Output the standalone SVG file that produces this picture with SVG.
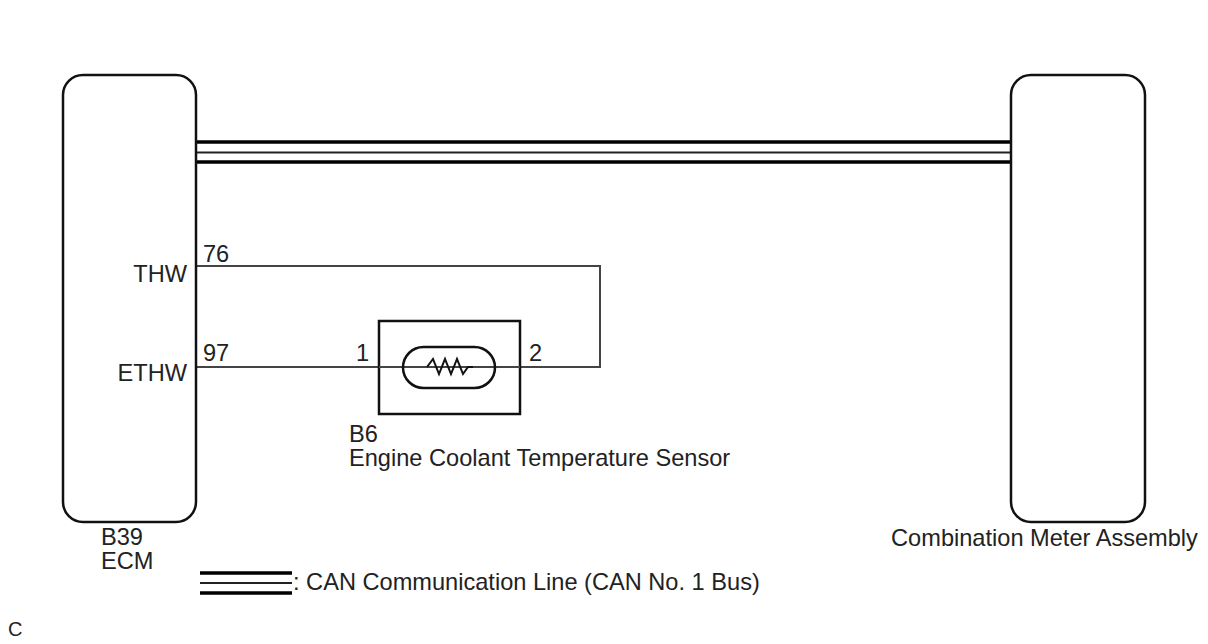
<svg xmlns="http://www.w3.org/2000/svg" width="1208" height="644" viewBox="0 0 1208 644">
<style>
text{font-family:"Liberation Sans",Arial,sans-serif;font-size:23.6px;fill:#222}
.box{fill:#fff;stroke:#111;stroke-width:2.5}
.wire{fill:none;stroke:#444;stroke-width:2}
.canT{stroke:#000;stroke-width:3.5}
.cant{stroke:#222;stroke-width:2}
</style>
<rect width="1208" height="644" fill="#fff"/>
<g id="connectors">
<line class="canT" x1="197" y1="142" x2="1011" y2="142"/>
<line class="cant" x1="197" y1="152.5" x2="1011" y2="152.5"/>
<line class="canT" x1="197" y1="162" x2="1011" y2="162"/>
<polyline class="wire" points="197,266 600,266 600,367 520,367"/>
<line class="wire" x1="197" y1="367" x2="379" y2="367"/>
</g>
<g id="ecm">
<rect class="box" x="63" y="75" width="133" height="447" rx="20"/>
<text x="187" y="282" text-anchor="end">THW</text>
<text x="187" y="381" text-anchor="end">ETHW</text>
<text x="203" y="262">76</text>
<text x="203" y="361">97</text>
<text x="101" y="545">B39</text>
<text x="101" y="568.5">ECM</text>
</g>
<g id="meter">
<rect class="box" x="1011" y="75" width="134" height="447" rx="20"/>
<text x="1044.5" y="546" text-anchor="middle">Combination Meter Assembly</text>
</g>
<g id="sensor">
<rect class="box" x="379" y="321" width="141" height="93" fill="#fff"/>
<line class="wire" x1="379" y1="367" x2="520" y2="367"/>
<rect x="403" y="347" width="92" height="41" rx="20.5" fill="none" stroke="#111" stroke-width="2.5"/>
<polyline points="427,367 433,359 439,374 445,359 451,374 457,359 463,374 468,367 473,367" fill="none" stroke="#111" stroke-width="2"/>
<text x="356" y="361">1</text>
<text x="529" y="361">2</text>
<text x="349" y="442">B6</text>
<text x="349" y="466">Engine Coolant Temperature Sensor</text>
</g>
<g id="legend">
<line class="canT" x1="200" y1="573" x2="292" y2="573"/>
<line class="cant" x1="200" y1="583" x2="292" y2="583"/>
<line class="canT" x1="200" y1="593" x2="292" y2="593"/>
<text x="293" y="590">: CAN Communication Line (CAN No. 1 Bus)</text>
<text x="8" y="636" style="font-size:20px">C</text>
</g>
</svg>
